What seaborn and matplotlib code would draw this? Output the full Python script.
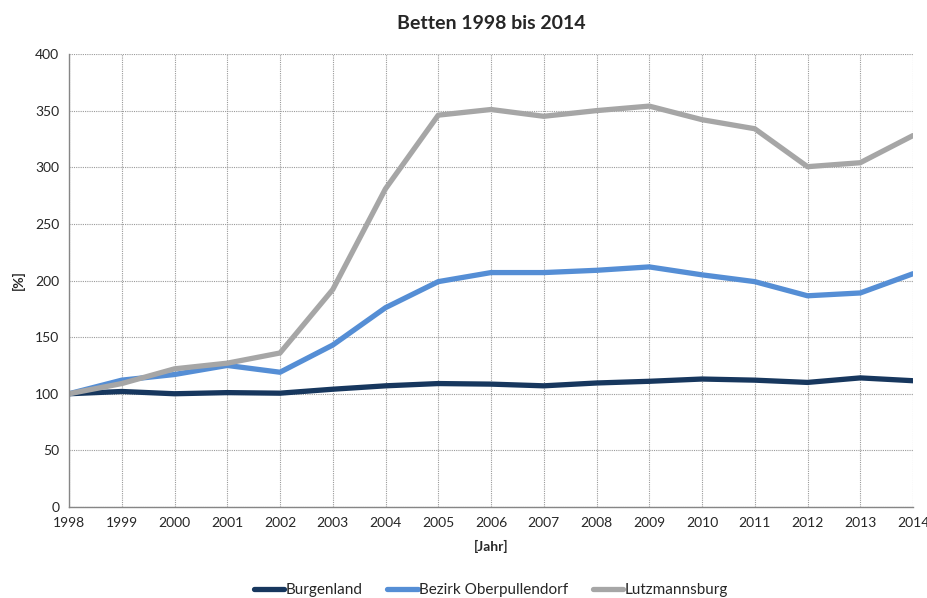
import matplotlib
matplotlib.use("Agg")
import matplotlib.pyplot as plt
import seaborn as sns
import pandas as pd

years = list(range(1998, 2015))
burgenland = [100, 102, 100, 101, 100.5, 104, 107, 109, 108.5, 107, 109.5, 111, 113, 112, 110, 114, 111.5]
oberpullendorf = [100, 112, 117, 125, 119, 143, 176, 199, 207, 207, 209, 212, 205, 199, 186.5, 189, 206]
lutzmannsburg = [100, 109, 122, 127, 136, 192, 281, 346, 351, 345, 350, 354, 342, 334, 300.5, 304, 328]
series_names = ["Burgenland", "Bezirk Oberpullendorf", "Lutzmannsburg"]
colors = ["#17375E", "#558ED5", "#A6A6A6"]

df = pd.DataFrame({
    "Jahr": years * 3,
    "Wert": burgenland + oberpullendorf + lutzmannsburg,
    "Serie": [series_names[0]] * len(years) + [series_names[1]] * len(years) + [series_names[2]] * len(years),
})

sns.set_style("white")
plt.rcParams["font.family"] = ["Lato", "DejaVu Sans"]

fig = plt.figure(figsize=(9.28, 5.98), dpi=100)
ax = fig.add_axes([69 / 928, 1 - 507 / 598, (913 - 69) / 928, (507 - 54) / 598])

sns.lineplot(data=df, x="Jahr", y="Wert", hue="Serie", hue_order=series_names,
             palette=colors, linewidth=3.8, ax=ax, legend=True)

ax.set_xlim(1998, 2014)
ax.set_ylim(0, 400)
ax.set_xticks(years)
ax.set_xticklabels([str(y) for y in years], fontsize=10)
ax.set_yticks(range(0, 401, 50))
ax.set_yticklabels([str(v) for v in range(0, 401, 50)], fontsize=10)
ax.grid(True, color="#9A9A9A", linestyle=(0, (1, 1)), linewidth=0.8)
ax.set_axisbelow(True)
for s in ["top", "right"]:
    ax.spines[s].set_visible(False)
for s in ["left", "bottom"]:
    ax.spines[s].set_color("#868686")
    ax.spines[s].set_linewidth(1)
ax.tick_params(axis="both", which="both", length=4, color="#868686", direction="out", pad=3)

ax.set_xlabel("[Jahr]", fontsize=10, fontweight="bold", labelpad=8)
ax.set_ylabel("[%]", fontsize=10, fontweight="bold", labelpad=7)
ax.set_title("Betten 1998 bis 2014", fontsize=14, fontweight="bold", pad=18)

handles, labels = ax.get_legend_handles_labels()
ax.legend(handles, labels, loc="lower center", bbox_to_anchor=(0.5, -0.23),
          ncol=3, frameon=False, fontsize=11, handlelength=2.0, handletextpad=0.1,
          columnspacing=1.6)

fig.savefig("out.png", dpi=100)
